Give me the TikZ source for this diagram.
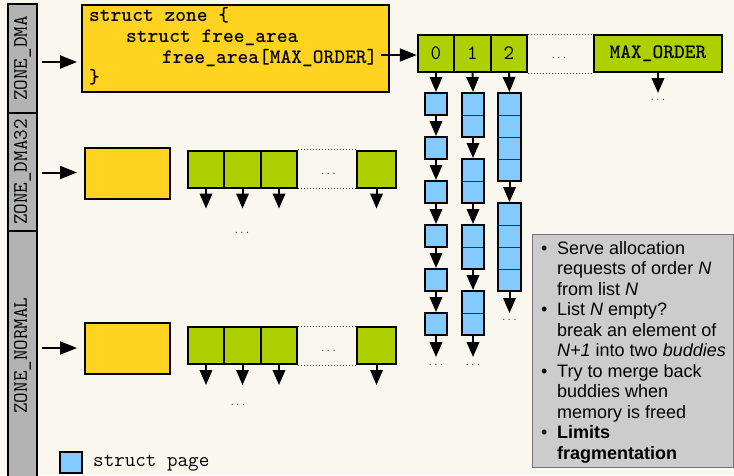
\documentclass[tikz,border=0pt]{standalone}
\usepackage{fontspec}
\setmainfont{Liberation Sans}
\usetikzlibrary{arrows.meta,calc}
\definecolor{bg}{RGB}{250,248,238}
\definecolor{cyel}{HTML}{FFD320}
\definecolor{cgrn}{HTML}{AECF00}
\definecolor{cblu}{HTML}{83CAFF}
\definecolor{cbar}{HTML}{B3B3B3}
\definecolor{cbox}{HTML}{CCCCCC}
\newcommand\monosz{\fontsize{20.5}{20.75}\selectfont}
\tikzset{
  bx/.style={draw=black, line width=2pt, inner sep=0pt},
  yel/.style={bx, fill=cyel},
  grn/.style={bx, fill=cgrn, minimum height=37pt, font=\ttfamily\monosz},
  pg/.style={bx, fill=cblu, minimum width=22pt},
  zseg/.style={bx, fill=cbar, rotate=90, minimum height=29pt, font=\ttfamily\monosz},
  arr/.style={-{Triangle[width=12.5pt,length=15pt]}, line width=2pt},
  harr/.style={-{Triangle[width=13pt,length=17pt]}, line width=2pt},
  dotl/.style={dotted, line width=1pt, black!75},
  dts/.style={font=\ttfamily\fontsize{10.5}{12}\selectfont, inner sep=0pt, text=black!80},
  div2/.style={path picture={\draw[line width=1pt, black!80] (path picture bounding box.west) -- (path picture bounding box.east);}},
  div4/.style={path picture={
     \foreach \f in {0.25,0.5,0.75}
       \draw[line width=1pt, black!80] ($(path picture bounding box.north west)!\f!(path picture bounding box.south west)$) -- ($(path picture bounding box.north east)!\f!(path picture bounding box.south east)$);}},
}
\begin{document}
\begin{tikzpicture}[x=1pt,y=-1pt]
\useasboundingbox (0,0) rectangle (734,475);
\fill[bg] (0,0) rectangle (734,475);

% zone bar
\node[zseg, minimum width=109pt] (zdma) at (22.5,58.5) {ZONE\_DMA};
\node[zseg, minimum width=118pt] (zdma32) at (22.5,172) {ZONE\_DMA32};
\node[zseg, minimum width=249pt] (znorm) at (22.5,355.5) {ZONE\_NORMAL};

% ZONE_DMA row
\node[yel, minimum width=307pt, minimum height=87pt] (zone) at (235.5,48.5) {};
\node[anchor=base west, inner sep=0pt, font=\ttfamily\bfseries\monosz] (code) at (89,21.5)
  {\begin{tabular}[t]{@{}l@{}}struct zone \{\\
   \hspace*{37pt}struct free\_area\\
   \hspace*{73pt}free\_area[MAX\_ORDER]\\
   \}\end{tabular}};
\coordinate (a1) at (42,62);
\draw[harr, shorten >=4pt] (a1) -- (a1 -| zone.west);

\node[grn, minimum width=36.5pt] (g0) at (436,53.5) {0};
\node[grn, minimum width=36.5pt] (g1) at (472.5,53.5) {1};
\node[grn, minimum width=36.5pt] (g2) at (509,53.5) {2};
\node[grn, minimum width=128pt, font=\ttfamily\bfseries\monosz] (gm) at (658,53.5) {MAX\_ORDER};
\draw[dotl] (g2.north east) -- (gm.north west);
\draw[dotl] (g2.south east) -- (gm.south west);
\node[dts] (gdots) at (559,58) {...};
\coordinate (fa) at (381,55);
\draw[harr] (fa) -- (fa -| g0.west);
\coordinate (em) at (658,93);
\draw[arr] (gm.south) -- (em);
\node[dts] (emd) at (658,100) {...};

% column 0
\foreach \n/\y in {a/104,b/148,c/192,d/236,e/280,f/324}
  \node[pg, minimum height=22pt] (p0\n) at (436,\y) {};
\draw[arr] (g0.south) -- (p0a.north);
\draw[arr] (p0a.south) -- (p0b.north);
\draw[arr] (p0b.south) -- (p0c.north);
\draw[arr] (p0c.south) -- (p0d.north);
\draw[arr] (p0d.south) -- (p0e.north);
\draw[arr] (p0e.south) -- (p0f.north);
\coordinate (e0) at (436,357);
\draw[arr] (p0f.south) -- (e0);
\node[dts] (d0) at (436,365) {...};

% column 1
\foreach \n/\y in {a/115,b/181,c/247,d/313}
  \node[pg, div2, minimum height=44pt] (p1\n) at (473,\y) {};
\draw[arr] (g1.south) -- (p1a.north);
\draw[arr] (p1a.south) -- (p1b.north);
\draw[arr] (p1b.south) -- (p1c.north);
\draw[arr] (p1c.south) -- (p1d.north);
\coordinate (e1) at (473,357);
\draw[arr] (p1d.south) -- (e1);
\node[dts] (d1) at (473,365) {...};

% column 2
\node[pg, div4, minimum width=23pt, minimum height=88pt] (p2a) at (509.5,137) {};
\node[pg, div4, minimum width=23pt, minimum height=88pt] (p2b) at (509.5,247) {};
\draw[arr] (g2.south) -- (p2a.north);
\draw[arr] (p2a.south) -- (p2b.north);
\coordinate (e2) at (509.5,313);
\draw[arr] (p2b.south) -- (e2);
\node[dts] (d2) at (509.5,320) {...};

% ZONE_DMA32 row
\node[yel, minimum width=85pt, minimum height=51pt] (y32) at (127.5,173.5) {};
\coordinate (a2) at (42,172.5);
\draw[harr, shorten >=7pt] (a2) -- (a2 -| y32.west);
\node[grn, minimum width=36pt] (h0) at (206,169) {};
\node[grn, minimum width=37pt] (h1) at (242.5,169) {};
\node[grn, minimum width=36pt] (h2) at (279,169) {};
\node[grn, minimum width=39pt] (hm) at (376.5,169) {};
\draw[dotl] (h2.north east) -- (hm.north west);
\draw[dotl] (h2.south east) -- (hm.south west);
\node[dts] (hd) at (328.5,174) {...};
\foreach \n in {h0,h1,h2,hm}
  \draw[arr] (\n.south) -- ++(0,20);
\node[dts] (hd2) at (242,233) {...};

% ZONE_NORMAL row
\node[yel, minimum width=85pt, minimum height=51pt] (yn) at (127.5,348.5) {};
\coordinate (a3) at (42,348);
\draw[harr, shorten >=7pt] (a3) -- (a3 -| yn.west);
\node[grn, minimum width=36pt] (k0) at (206,345.5) {};
\node[grn, minimum width=37pt] (k1) at (242.5,345.5) {};
\node[grn, minimum width=36pt] (k2) at (279,345.5) {};
\node[grn, minimum width=39pt] (km) at (376.5,345.5) {};
\draw[dotl] (k2.north east) -- (km.north west);
\draw[dotl] (k2.south east) -- (km.south west);
\node[dts] (kd) at (328.5,350.5) {...};
\foreach \n in {k0,k1,k2,km}
  \draw[arr] (\n.south) -- ++(0,20);
\node[dts] (kd2) at (238,405) {...};

% legend
\node[pg, minimum height=21pt] (leg) at (71,462.5) {};
\node[anchor=base west, inner sep=0pt, font=\ttfamily\monosz] (legt) at (93,466.5) {struct page};

% info box
\node[draw=black!55, line width=1pt, fill=cbox, minimum width=201pt, minimum height=233pt, inner sep=0pt] (info) at (632.5,350.5) {};
\node[anchor=base west, inner sep=0pt, font=\fontsize{18}{20.5}\selectfont] (infot) at (541,254)
 {\begin{tabular}[t]{@{}p{16pt}@{}l@{}}
  • & Serve allocation\\
    & requests of order \textit{N}\\
    & from list \textit{N}\\
  • & List \textit{N} empty?\\
    & break an element of\\
    & \textit{N+1} into two \textit{buddies}\\
  • & Try to merge back\\
    & buddies when\\
    & memory is freed\\
  • & \textbf{Limits}\\
    & \textbf{fragmentation}
  \end{tabular}};
\end{tikzpicture}
\end{document}
